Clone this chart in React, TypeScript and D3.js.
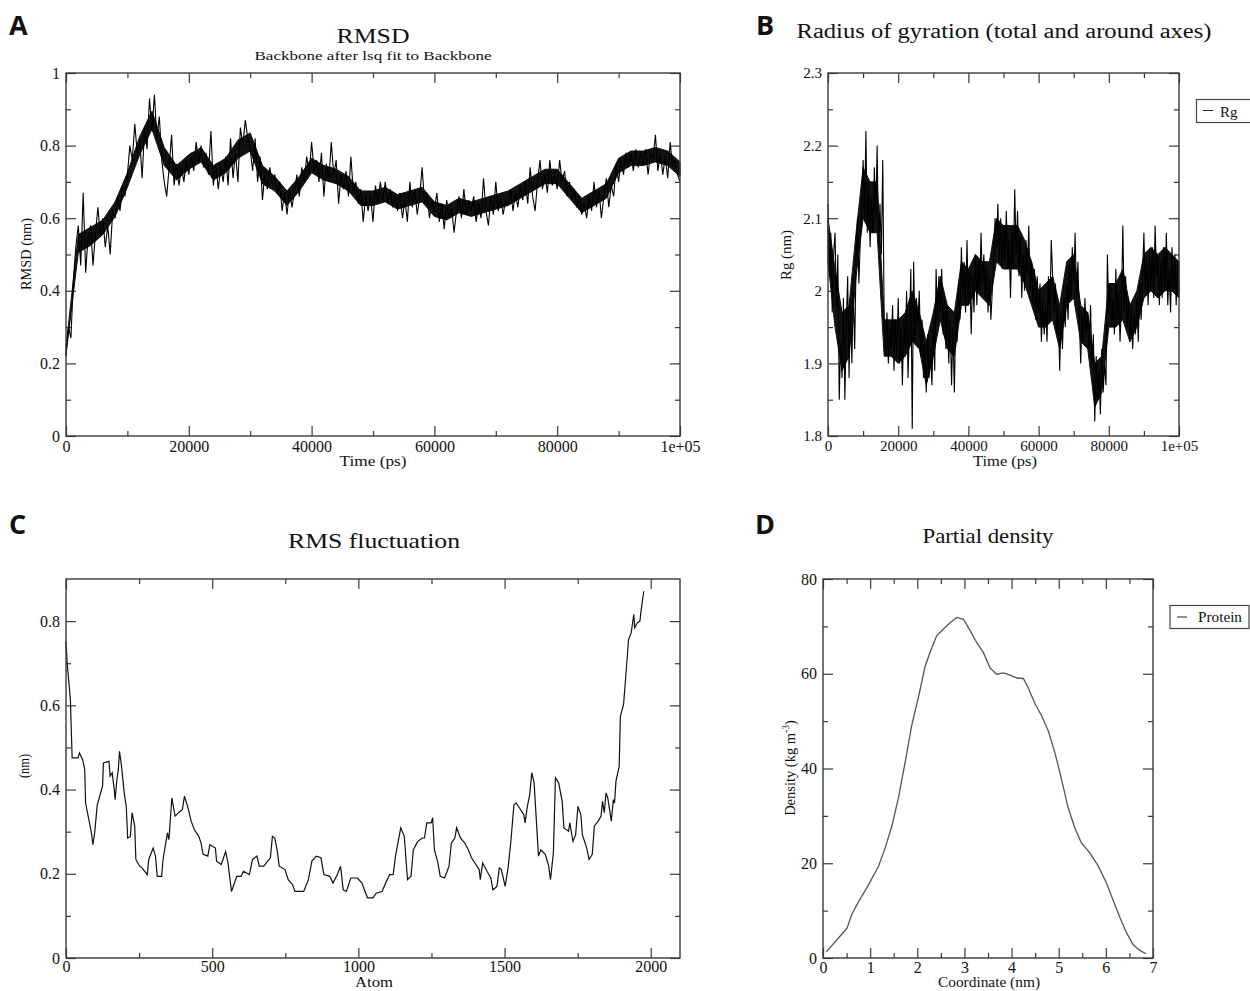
import React from "react";
import * as d3 from "d3";

// ---- data ----

// RMSD (nm), one value every 400 ps from 0 to 100000 ps
const rmsdStep = 400;
const rmsdValues = [
  0.22, 0.3, 0.27, 0.43, 0.52, 0.58, 0.47, 0.67, 0.45, 0.55,
  0.58, 0.47, 0.56, 0.63, 0.55, 0.6, 0.52, 0.58, 0.5, 0.62,
  0.6, 0.66, 0.62, 0.69, 0.66, 0.72, 0.8, 0.76, 0.86, 0.78,
  0.82, 0.71, 0.85, 0.79, 0.93, 0.84, 0.94, 0.82, 0.88, 0.76,
  0.7, 0.66, 0.74, 0.83, 0.69, 0.75, 0.69, 0.74, 0.7, 0.76,
  0.72, 0.78, 0.73, 0.81, 0.75, 0.8, 0.74, 0.78, 0.72, 0.84,
  0.69, 0.75, 0.68, 0.74, 0.7, 0.77, 0.69, 0.82, 0.71, 0.78,
  0.7, 0.85, 0.8, 0.87, 0.82, 0.79, 0.73, 0.82, 0.7, 0.77,
  0.65, 0.73, 0.68, 0.74, 0.69, 0.72, 0.67, 0.7, 0.62, 0.67,
  0.61, 0.68, 0.63, 0.67, 0.72, 0.66, 0.74, 0.7, 0.77, 0.72,
  0.81, 0.73, 0.76, 0.7, 0.78, 0.66, 0.75, 0.7, 0.81, 0.72,
  0.76, 0.64, 0.72, 0.68, 0.73, 0.66, 0.77, 0.67, 0.7, 0.64,
  0.68, 0.59, 0.66, 0.62, 0.66, 0.59, 0.69, 0.64, 0.7, 0.65,
  0.7, 0.64, 0.68, 0.63, 0.66, 0.62, 0.67, 0.6, 0.65, 0.59,
  0.7, 0.63, 0.68, 0.61, 0.66, 0.74, 0.64, 0.67, 0.6, 0.65,
  0.62, 0.67, 0.59, 0.64, 0.57, 0.65, 0.6, 0.63, 0.56, 0.62,
  0.66, 0.6, 0.68, 0.61, 0.65, 0.62, 0.66, 0.59, 0.64, 0.6,
  0.71, 0.62, 0.58, 0.66, 0.61, 0.7, 0.62, 0.66, 0.61, 0.65,
  0.64, 0.68, 0.62, 0.67, 0.63, 0.69, 0.65, 0.7, 0.64, 0.74,
  0.66, 0.62, 0.7, 0.76, 0.68, 0.72, 0.67, 0.76, 0.69, 0.72,
  0.68, 0.76, 0.7, 0.73, 0.66, 0.7, 0.65, 0.68, 0.63, 0.66,
  0.61, 0.64, 0.6, 0.66, 0.62, 0.7, 0.63, 0.68, 0.6, 0.66,
  0.71, 0.63, 0.69, 0.66, 0.75, 0.7, 0.76, 0.72, 0.78, 0.74,
  0.78, 0.73, 0.79, 0.74, 0.78, 0.75, 0.79, 0.72, 0.78, 0.76,
  0.83, 0.73, 0.78, 0.72, 0.77, 0.71, 0.81, 0.74, 0.76, 0.72,
  0.7,
];
// dense core of the RMSD trace, every 2000 ps
const bandStep = 2000;
const rmsdBandLow = [
  0.225, 0.505, 0.525, 0.555, 0.605, 0.685, 0.775, 0.845, 0.745, 0.705,
  0.735, 0.755, 0.705, 0.725, 0.765, 0.785, 0.695, 0.675, 0.635, 0.675,
  0.725, 0.705, 0.695, 0.675, 0.635, 0.635, 0.645, 0.625, 0.635, 0.645,
  0.605, 0.595, 0.615, 0.605, 0.615, 0.625, 0.635, 0.655, 0.675, 0.695,
  0.695, 0.655, 0.615, 0.635, 0.655, 0.725, 0.745, 0.745, 0.755, 0.745,
  0.715,
];
const rmsdBandHigh = [
  0.245, 0.555, 0.575, 0.595, 0.645, 0.725, 0.825, 0.895, 0.795, 0.745,
  0.775, 0.795, 0.745, 0.765, 0.815, 0.835, 0.745, 0.715, 0.675, 0.715,
  0.765, 0.745, 0.735, 0.715, 0.675, 0.675, 0.685, 0.665, 0.675, 0.685,
  0.645, 0.635, 0.655, 0.645, 0.655, 0.665, 0.675, 0.695, 0.715, 0.735,
  0.735, 0.695, 0.655, 0.675, 0.695, 0.765, 0.785, 0.785, 0.795, 0.785,
  0.755,
];

// Radius of gyration (nm), one value every 400 ps
const rgStep = 400;
const rgValues = [
  2.12, 2.02, 2.08, 1.97, 2.05, 2.08, 1.98, 2.05, 1.85, 1.93,
  1.88, 1.99, 1.85, 1.95, 2.02, 1.88, 1.99, 1.9, 2.0, 1.92,
  2.04, 2.1, 2.01, 2.07, 2.11, 2.18, 2.1, 2.22, 2.08, 2.15,
  2.06, 2.13, 2.08, 2.17, 2.1, 2.2, 2.06, 2.12, 2.05, 2.18,
  1.96, 1.91, 1.97, 1.9, 1.95, 1.92, 1.98, 1.89, 1.96, 1.91,
  1.99, 1.9, 1.95, 1.87, 1.96, 1.92, 2.0, 1.88, 1.95, 2.03,
  1.81, 2.04, 1.93, 1.99, 1.95, 2.0, 1.91, 1.96, 1.88, 1.93,
  1.86, 1.94, 1.88, 1.92, 1.87, 1.95, 1.89, 2.03, 1.96, 2.02,
  1.97, 2.03, 1.94, 1.99, 1.92, 1.98, 1.9, 1.96, 1.87, 1.95,
  1.86, 1.97, 1.93, 2.01, 1.96, 2.06, 1.99, 2.04, 1.97, 2.07,
  1.98, 2.03, 1.94, 2.02, 1.97, 2.05, 1.98, 2.04, 2.0, 2.08,
  2.01, 2.05, 1.99, 2.03, 1.97, 2.02, 1.96, 2.0, 2.04, 2.1,
  2.06, 2.12, 2.04, 2.1, 2.03, 2.09, 2.04, 2.11, 2.03, 2.07,
  1.99, 2.08, 2.03, 2.14, 2.05, 2.11, 2.02, 2.08, 1.99, 2.05,
  2.0, 2.07, 2.02, 2.09, 2.0, 2.04, 1.98, 2.03, 1.96, 2.02,
  1.97, 2.01, 1.93, 1.99, 1.94, 1.98, 1.93, 2.02, 1.96, 2.07,
  2.02, 1.97, 2.01, 1.94, 1.98, 1.89, 1.97, 1.92, 1.99, 1.95,
  2.01, 1.96, 2.04, 1.99, 2.06, 2.01, 2.08, 1.99, 2.04, 1.96,
  1.9, 1.97, 1.93, 1.99, 1.94, 1.97, 1.92, 1.98, 1.9, 1.94,
  1.82, 1.91, 1.85, 1.89, 1.83, 1.92, 1.86, 1.9, 1.87, 2.05,
  1.97, 2.01, 1.95, 1.99, 1.94, 2.03, 1.96, 2.0, 1.93, 1.98,
  2.09, 1.97, 2.02, 1.95, 1.99, 1.93, 1.98, 1.92, 1.97, 1.94,
  1.99, 1.93, 2.01, 1.96, 2.02, 2.08, 2.0, 2.04, 1.98, 2.05,
  2.0, 2.06, 1.99, 2.09, 2.02, 2.05, 1.98, 2.04, 1.99, 2.06,
  2.0, 2.08, 1.98, 2.03, 1.97, 2.06, 2.0, 2.05, 1.98, 2.04,
  2.0,
];
// dense core of the Rg trace, every 2000 ps
const rgBandLow = [
  2.04, 1.95, 1.89, 1.91, 2.02, 2.1, 2.08, 2.08, 1.91, 1.91,
  1.9, 1.91, 1.93, 1.92, 1.87, 1.91, 1.96, 1.92, 1.91, 1.98,
  1.98, 2.0, 1.99, 1.98, 2.04, 2.03, 2.03, 2.03, 2.01, 1.98,
  1.95, 1.95, 1.96, 1.92, 1.98, 1.99, 1.93, 1.92, 1.84, 1.86,
  1.95, 1.95, 1.96, 1.93, 1.95, 1.99, 2.0, 1.99, 2.0, 2.0,
  1.99,
];
const rgBandHigh = [
  2.1, 2.03, 1.97, 1.98, 2.08, 2.17, 2.15, 2.15, 1.96, 1.96,
  1.96, 1.97, 2.0, 1.97, 1.93, 1.97, 2.02, 1.98, 1.97, 2.04,
  2.03, 2.05, 2.04, 2.04, 2.1, 2.09, 2.09, 2.09, 2.07, 2.04,
  2.0, 2.01, 2.02, 1.98, 2.04, 2.05, 1.98, 1.97, 1.9, 1.91,
  2.01, 2.01, 2.03, 1.98, 2.0, 2.05, 2.06, 2.05, 2.06, 2.05,
  2.04,
];

// RMS fluctuation per atom (nm)
const rmsfAtoms = [
  0, 4, 15, 21, 41, 46, 57, 64, 67, 87, 92, 98, 107, 125, 128, 147, 151, 158, 165, 168,
  174, 179, 183, 190, 199, 206, 211, 220, 226, 235, 239, 252, 260, 278, 283, 298, 306, 312, 327, 332,
  347, 352, 362, 373, 385, 398, 405, 416, 428, 439, 454, 462, 469, 485, 492, 511, 515, 531, 546, 554,
  566, 584, 599, 607, 627, 638, 653, 661, 676, 699, 706, 714, 722, 729, 749, 760, 775, 783, 813, 829,
  841, 856, 872, 882, 902, 913, 928, 939, 948, 959, 974, 997, 1012, 1031, 1050, 1061, 1081, 1096, 1107, 1119,
  1127, 1135, 1145, 1157, 1168, 1180, 1188, 1203, 1219, 1226, 1234, 1249, 1254, 1260, 1272, 1280, 1295, 1310, 1318, 1330,
  1336, 1349, 1364, 1376, 1387, 1402, 1413, 1417, 1425, 1440, 1453, 1460, 1474, 1482, 1489, 1502, 1512, 1521, 1532, 1540,
  1555, 1566, 1570, 1578, 1586, 1593, 1601, 1616, 1624, 1639, 1651, 1657, 1667, 1674, 1685, 1697, 1703, 1719, 1723, 1734,
  1743, 1751, 1761, 1766, 1781, 1789, 1800, 1807, 1820, 1830, 1835, 1841, 1847, 1853, 1865, 1872, 1876, 1881, 1892, 1896,
  1907, 1918, 1924, 1933, 1942, 1945, 1954, 1963, 1966, 1976,
];
const rmsfValues = [
  0.752, 0.7, 0.614, 0.475, 0.475, 0.487, 0.471, 0.448, 0.368, 0.297, 0.269, 0.297, 0.364, 0.408, 0.463, 0.467, 0.432, 0.44, 0.4, 0.376,
  0.424, 0.448, 0.491, 0.455, 0.392, 0.36, 0.285, 0.288, 0.345, 0.313, 0.234, 0.218, 0.214, 0.198, 0.234, 0.261, 0.242, 0.194, 0.194, 0.234,
  0.297, 0.281, 0.38, 0.337, 0.345, 0.352, 0.384, 0.36, 0.325, 0.305, 0.289, 0.273, 0.246, 0.242, 0.269, 0.261, 0.23, 0.222, 0.253, 0.226,
  0.158, 0.194, 0.194, 0.206, 0.198, 0.234, 0.242, 0.218, 0.218, 0.238, 0.289, 0.285, 0.257, 0.218, 0.21, 0.186, 0.174, 0.158, 0.158, 0.186,
  0.23, 0.242, 0.238, 0.198, 0.194, 0.178, 0.198, 0.218, 0.162, 0.158, 0.19, 0.19, 0.178, 0.143, 0.143, 0.154, 0.158, 0.182, 0.198, 0.198,
  0.242, 0.273, 0.309, 0.289, 0.186, 0.194, 0.257, 0.277, 0.285, 0.285, 0.321, 0.321, 0.333, 0.257, 0.226, 0.194, 0.19, 0.218, 0.273, 0.285,
  0.309, 0.285, 0.273, 0.257, 0.238, 0.222, 0.21, 0.186, 0.226, 0.206, 0.19, 0.162, 0.17, 0.214, 0.21, 0.17, 0.214, 0.273, 0.364, 0.368,
  0.352, 0.34, 0.321, 0.36, 0.388, 0.44, 0.416, 0.242, 0.257, 0.246, 0.218, 0.186, 0.25, 0.428, 0.416, 0.372, 0.309, 0.301, 0.321, 0.277,
  0.293, 0.36, 0.34, 0.293, 0.261, 0.234, 0.246, 0.313, 0.325, 0.337, 0.372, 0.345, 0.392, 0.38, 0.325, 0.376, 0.368, 0.42, 0.455, 0.574,
  0.602, 0.7, 0.756, 0.772, 0.816, 0.784, 0.796, 0.8, 0.82, 0.871,
];

// Partial density of the protein
const densityCoord = [
  0.07, 0.3, 0.51, 0.61, 0.76, 0.93, 1.18, 1.32, 1.46, 1.6, 1.74, 1.88, 2.03, 2.17, 2.27, 2.41,
  2.55, 2.7, 2.84, 2.98, 3.12, 3.26, 3.4, 3.54, 3.68, 3.83, 3.97, 4.11, 4.25, 4.35, 4.5, 4.64,
  4.78, 4.92, 5.06, 5.2, 5.34, 5.48, 5.66, 5.84, 6.01, 6.15, 6.3, 6.44, 6.58, 6.72, 6.85,
];
const densityValues = [
  1.3, 3.9, 6.3, 9.2, 12.0, 14.8, 19.4, 23.3, 27.8, 33.8, 41.2, 49.0, 55.3, 61.7, 64.5, 68.0,
  69.4, 70.8, 71.9, 71.5, 69.1, 66.6, 64.5, 61.3, 59.9, 60.2, 59.7, 59.1, 59.0, 57.1, 53.6, 51.1,
  47.9, 43.3, 37.7, 31.7, 27.5, 24.3, 22.2, 19.4, 15.9, 12.3, 8.5, 5.3, 2.8, 1.6, 0.9,
];

// ---- ticks ----
const timeMajor = [0, 20000, 40000, 60000, 80000, 100000];
const timeLabels = ["0", "20000", "40000", "60000", "80000", "1e+05"];
const timeMinor = [10000, 30000, 50000, 70000, 90000];

const rmsdMajor = [0, 0.2, 0.4, 0.6, 0.8, 1];
const rmsdLabels = ["0", "0.2", "0.4", "0.6", "0.8", "1"];
const rmsdMinor = [0.1, 0.3, 0.5, 0.7, 0.9];

const rgMajor = [1.8, 1.9, 2.0, 2.1, 2.2, 2.3];
const rgLabels = ["1.8", "1.9", "2", "2.1", "2.2", "2.3"];
const rgMinor = [1.85, 1.95, 2.05, 2.15, 2.25];

const atomMajor = [0, 500, 1000, 1500, 2000];
const atomLabels = ["0", "500", "1000", "1500", "2000"];
const atomMinor = [250, 750, 1250, 1750];
const rmsfMajor = [0, 0.2, 0.4, 0.6, 0.8];
const rmsfLabels = ["0", "0.2", "0.4", "0.6", "0.8"];
const rmsfMinor = [0.1, 0.3, 0.5, 0.7];

const coordMajor = [0, 1, 2, 3, 4, 5, 6, 7];
const coordLabels = ["0", "1", "2", "3", "4", "5", "6", "7"];
const coordMinor = [0.5, 1.5, 2.5, 3.5, 4.5, 5.5, 6.5];
const densMajor = [0, 20, 40, 60, 80];
const densLabels = ["0", "20", "40", "60", "80"];
const densMinor = [10, 30, 50, 70];

const SERIF = "'Liberation Serif', 'Times New Roman', serif";
const SANS = "'Open Sans', 'Liberation Sans', sans-serif";
const FRAME = "#3a3a3a";

function drawPanel(root, o) {
  const x = d3.scaleLinear().domain(o.xDomain).range([0, o.width]);
  const y = d3.scaleLinear().domain(o.yDomain).range([o.height, 0]);
  const g = root.append("g").attr("transform", `translate(${o.left},${o.top})`);
  const fs = o.tickFont || 16;

  const styleAxis = (sel) => {
    sel.attr("font-family", SERIF).attr("font-size", fs);
    sel.select(".domain").remove();
    sel.selectAll("line").attr("stroke", FRAME).attr("stroke-width", 1.2);
    sel.selectAll("text").attr("font-family", SERIF).attr("font-size", fs).attr("fill", "#111");
  };
  const noLabel = () => "";

  // bottom
  g.append("g")
    .attr("transform", `translate(0,${o.height})`)
    .call(
      d3.axisBottom(x).tickValues(o.xMajor).tickSize(-10).tickPadding(o.xPad || 5)
        .tickFormat((_, i) => o.xLabels[i])
    )
    .call(styleAxis);
  g.append("g")
    .attr("transform", `translate(0,${o.height})`)
    .call(d3.axisBottom(x).tickValues(o.xMinor).tickSize(-5).tickFormat(noLabel))
    .call(styleAxis);
  // top
  g.append("g")
    .call(d3.axisTop(x).tickValues(o.xMajor).tickSize(-10).tickFormat(noLabel))
    .call(styleAxis);
  g.append("g")
    .call(d3.axisTop(x).tickValues(o.xMinor).tickSize(-5).tickFormat(noLabel))
    .call(styleAxis);
  // left
  g.append("g")
    .call(
      d3.axisLeft(y).tickValues(o.yMajor).tickSize(-10).tickPadding(6)
        .tickFormat((_, i) => o.yLabels[i])
    )
    .call(styleAxis);
  g.append("g")
    .call(d3.axisLeft(y).tickValues(o.yMinor).tickSize(-5).tickFormat(noLabel))
    .call(styleAxis);
  // right
  g.append("g")
    .attr("transform", `translate(${o.width},0)`)
    .call(d3.axisRight(y).tickValues(o.yMajor).tickSize(-10).tickFormat(noLabel))
    .call(styleAxis);
  g.append("g")
    .attr("transform", `translate(${o.width},0)`)
    .call(d3.axisRight(y).tickValues(o.yMinor).tickSize(-5).tickFormat(noLabel))
    .call(styleAxis);

  // dense core of noisy traces
  if (o.bandLow) {
    const band = d3.zip(o.bandLow.map((_, i) => i * o.bandStep), o.bandLow, o.bandHigh);
    g.append("path")
      .datum(band)
      .attr("fill", "#111")
      .attr("stroke", "#111")
      .attr("stroke-width", 1)
      .attr(
        "d",
        d3.area().x((d) => x(d[0])).y0((d) => y(d[1])).y1((d) => y(d[2]))
      );
  }

  // the trace
  const pts = d3.zip(o.xs, o.ys);
  g.append("path")
    .datum(pts)
    .attr("fill", "none")
    .attr("stroke", o.stroke)
    .attr("stroke-width", o.strokeWidth)
    .attr("stroke-linejoin", "miter")
    .attr("d", d3.line().x((d) => x(d[0])).y((d) => y(d[1])));

  // frame
  g.append("rect")
    .attr("width", o.width)
    .attr("height", o.height)
    .attr("fill", "none")
    .attr("stroke", FRAME)
    .attr("stroke-width", 1.4);
}

function addText(root, t) {
  const el = root
    .append("text")
    .attr("font-family", t.family || SERIF)
    .attr("font-size", t.size)
    .attr("font-weight", t.weight || "normal")
    .attr("fill", "#111")
    .attr("text-anchor", t.anchor || "middle")
    .attr(
      "transform",
      t.rotate ? `translate(${t.x},${t.y}) rotate(-90)` : `translate(${t.x},${t.y})`
    )
    .text(t.text);
  if (t.length) el.attr("textLength", t.length).attr("lengthAdjust", "spacingAndGlyphs");
  return el;
}

const App = () => {
  const svgRef = React.useRef(null);

  React.useEffect(() => {
    const svg = d3.select(svgRef.current);
    svg.selectAll("*").remove();
    svg.append("rect").attr("width", 1250).attr("height", 991).attr("fill", "#fff");

    // A: RMSD
    drawPanel(svg, {
      left: 66, top: 73, width: 614, height: 363,
      xDomain: [0, 100000], yDomain: [0, 1],
      xMajor: timeMajor, xLabels: timeLabels, xMinor: timeMinor,
      yMajor: rmsdMajor, yLabels: rmsdLabels, yMinor: rmsdMinor,
      xs: rmsdValues.map((_, i) => i * rmsdStep), ys: rmsdValues,
      bandLow: rmsdBandLow, bandHigh: rmsdBandHigh, bandStep,
      stroke: "#000", strokeWidth: 1.1,
    });
    // B: radius of gyration
    drawPanel(svg, {
      left: 828, top: 73, width: 351, height: 363,
      xDomain: [0, 100000], yDomain: [1.8, 2.3],
      xMajor: timeMajor, xLabels: timeLabels, xMinor: timeMinor,
      yMajor: rgMajor, yLabels: rgLabels, yMinor: rgMinor,
      xs: rgValues.map((_, i) => i * rgStep), ys: rgValues,
      bandLow: rgBandLow, bandHigh: rgBandHigh, bandStep,
      stroke: "#000", strokeWidth: 1.1, xPad: 4, tickFont: 15,
    });
    // C: RMS fluctuation
    drawPanel(svg, {
      left: 66, top: 579, width: 614, height: 379,
      xDomain: [0, 2100], yDomain: [0, 0.9],
      xMajor: atomMajor, xLabels: atomLabels, xMinor: atomMinor,
      yMajor: rmsfMajor, yLabels: rmsfLabels, yMinor: rmsfMinor,
      xs: rmsfAtoms, ys: rmsfValues,
      stroke: "#111", strokeWidth: 1.2, xPad: 3,
    });
    // D: partial density
    drawPanel(svg, {
      left: 823, top: 579, width: 330, height: 379,
      xDomain: [0, 7], yDomain: [0, 80],
      xMajor: coordMajor, xLabels: coordLabels, xMinor: coordMinor,
      yMajor: densMajor, yLabels: densLabels, yMinor: densMinor,
      xs: densityCoord, ys: densityValues,
      stroke: "#555", strokeWidth: 1.3, xPad: 4,
    });

    // panel letters
    addText(svg, { x: 9, y: 35, text: "A", size: 27, weight: 700, family: SANS, anchor: "start" });
    addText(svg, { x: 756, y: 35, text: "B", size: 27, weight: 700, family: SANS, anchor: "start" });
    addText(svg, { x: 9, y: 534, text: "C", size: 27, weight: 700, family: SANS, anchor: "start" });
    addText(svg, { x: 755, y: 534, text: "D", size: 27, weight: 700, family: SANS, anchor: "start" });

    // titles
    addText(svg, { x: 373, y: 43, text: "RMSD", size: 22, length: 73 });
    addText(svg, { x: 373, y: 60, text: "Backbone after lsq fit to Backbone", size: 13.5, length: 237 });
    addText(svg, { x: 1004, y: 38, text: "Radius of gyration (total and around axes)", size: 20, length: 415 });
    addText(svg, { x: 374, y: 548, text: "RMS fluctuation", size: 21, length: 172 });
    addText(svg, { x: 988, y: 543, text: "Partial density", size: 21, length: 131 });

    // axis labels
    addText(svg, { x: 373, y: 466, text: "Time (ps)", size: 15.5, length: 67 });
    addText(svg, { x: 1005, y: 466, text: "Time (ps)", size: 15, length: 64 });
    addText(svg, { x: 374, y: 987, text: "Atom", size: 15, length: 38 });
    addText(svg, { x: 989, y: 987, text: "Coordinate (nm)", size: 15, length: 102 });
    addText(svg, { x: 31, y: 254, text: "RMSD (nm)", size: 14, rotate: true, length: 72 });
    addText(svg, { x: 791, y: 255, text: "Rg (nm)", size: 14, rotate: true, length: 50 });
    addText(svg, { x: 29, y: 766, text: "(nm)", size: 14, rotate: true, length: 24 });
    const dens = addText(svg, { x: 795, y: 768, text: "Density (kg m", size: 14.5, rotate: true });
    dens.append("tspan").attr("font-size", 9.5).attr("dy", -6).text("-3");
    dens.append("tspan").attr("dy", 6).text(")");

    // legends
    svg.append("rect").attr("x", 1196.5).attr("y", 99.5).attr("width", 60).attr("height", 23)
      .attr("fill", "#fff").attr("stroke", "#444").attr("stroke-width", 1.2);
    svg.append("line").attr("x1", 1203).attr("x2", 1213).attr("y1", 110.5).attr("y2", 110.5)
      .attr("stroke", "#222").attr("stroke-width", 1);
    addText(svg, { x: 1220, y: 116.5, text: "Rg", size: 15, anchor: "start" });

    svg.append("rect").attr("x", 1170).attr("y", 605.5).attr("width", 79).attr("height", 23)
      .attr("fill", "#fff").attr("stroke", "#444").attr("stroke-width", 1.2);
    svg.append("line").attr("x1", 1177).attr("x2", 1187).attr("y1", 617).attr("y2", 617)
      .attr("stroke", "#222").attr("stroke-width", 1);
    addText(svg, { x: 1198, y: 622, text: "Protein", size: 15, anchor: "start", length: 44 });
  }, []);

  return (
    <svg
      ref={svgRef}
      width={1250}
      height={991}
      style={{ position: "absolute", left: 0, top: 0, display: "block" }}
    />
  );
};

export default App;
